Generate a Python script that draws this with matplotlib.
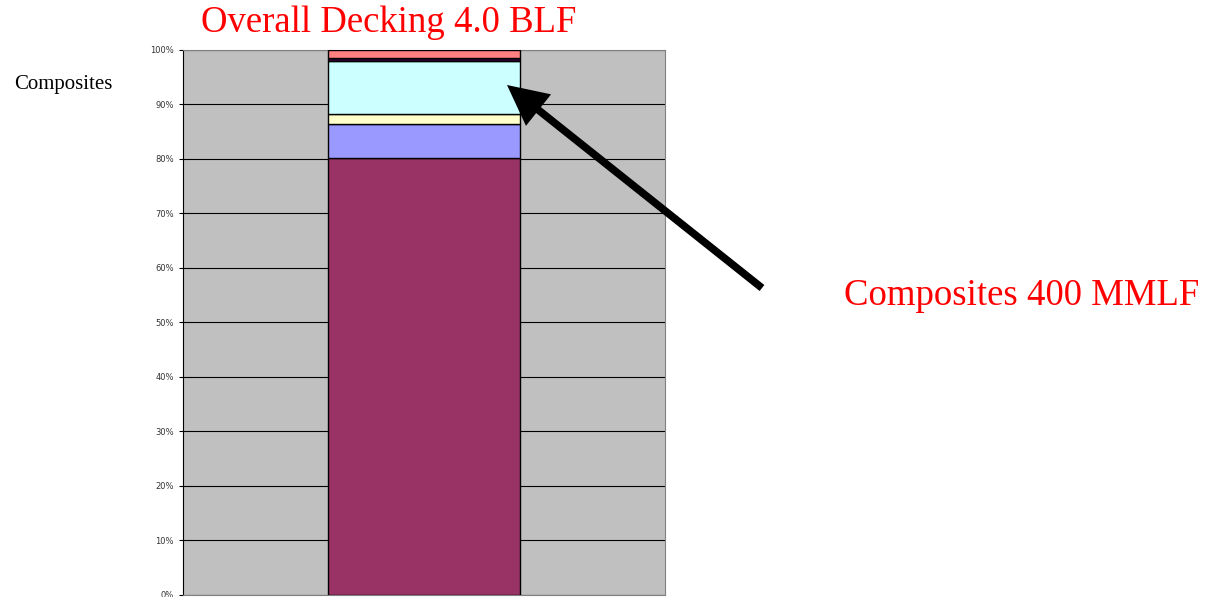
import matplotlib.pyplot as plt
from matplotlib.ticker import PercentFormatter

# share of each segment (%), bottom to top
categories = ['Composites']
shares = [80.1, 6.3, 1.9, 9.7, 0.6, 1.4]
colors = ['#993366', '#9999FF', '#FFFFCC', '#CCFFFF', '#330033', '#FF8080']
yticks = list(range(0, 101, 10))

fig = plt.figure(figsize=(12.1, 5.97), dpi=100)
ax = fig.add_axes([0.1512, 0.0034, 0.3984, 0.9129])
ax.set_facecolor('#C0C0C0')

bottom = 0
for val, col in zip(shares, colors):
    ax.bar(0, val, width=0.398, bottom=bottom, color=col,
           edgecolor='black', linewidth=1, zorder=3)
    bottom += val

ax.set_xlim(-0.5, 0.5)
ax.set_ylim(0, 100)
ax.set_yticks(yticks)
ax.yaxis.set_major_formatter(PercentFormatter(decimals=0))
ax.tick_params(axis='y', labelsize=6, length=3, color='black', labelcolor='#333333')
ax.set_xticks([])
ax.grid(axis='y', color='black', linewidth=0.8, zorder=1)
for s in ['top', 'right', 'bottom']:
    ax.spines[s].set_color('#808080')
ax.spines['left'].set_color('black')

serif = ['Liberation Serif', 'DejaVu Serif']
fig.text(0.321, 0.962, 'Overall Decking 4.0 BLF', color='red', fontsize=26.5,
         family=serif, ha='center', va='center')
fig.text(0.012, 0.858, categories[0], color='black', fontsize=15,
         family=serif, ha='left', va='center')
fig.text(0.991, 0.505, 'Composites 400 MMLF', color='red', fontsize=26.5,
         family=serif, ha='right', va='center')

ax.annotate('', xy=(507 / 1210, 1 - 85 / 597), xycoords='figure fraction',
            xytext=(762 / 1210, 1 - 288 / 597), textcoords='figure fraction',
            arrowprops=dict(arrowstyle='simple,head_length=2.9,head_width=2.9,tail_width=0.55',
                            mutation_scale=10, color='black', lw=0,
                            shrinkA=0, shrinkB=0),
            annotation_clip=False)

fig.savefig('out.png', dpi=100)
